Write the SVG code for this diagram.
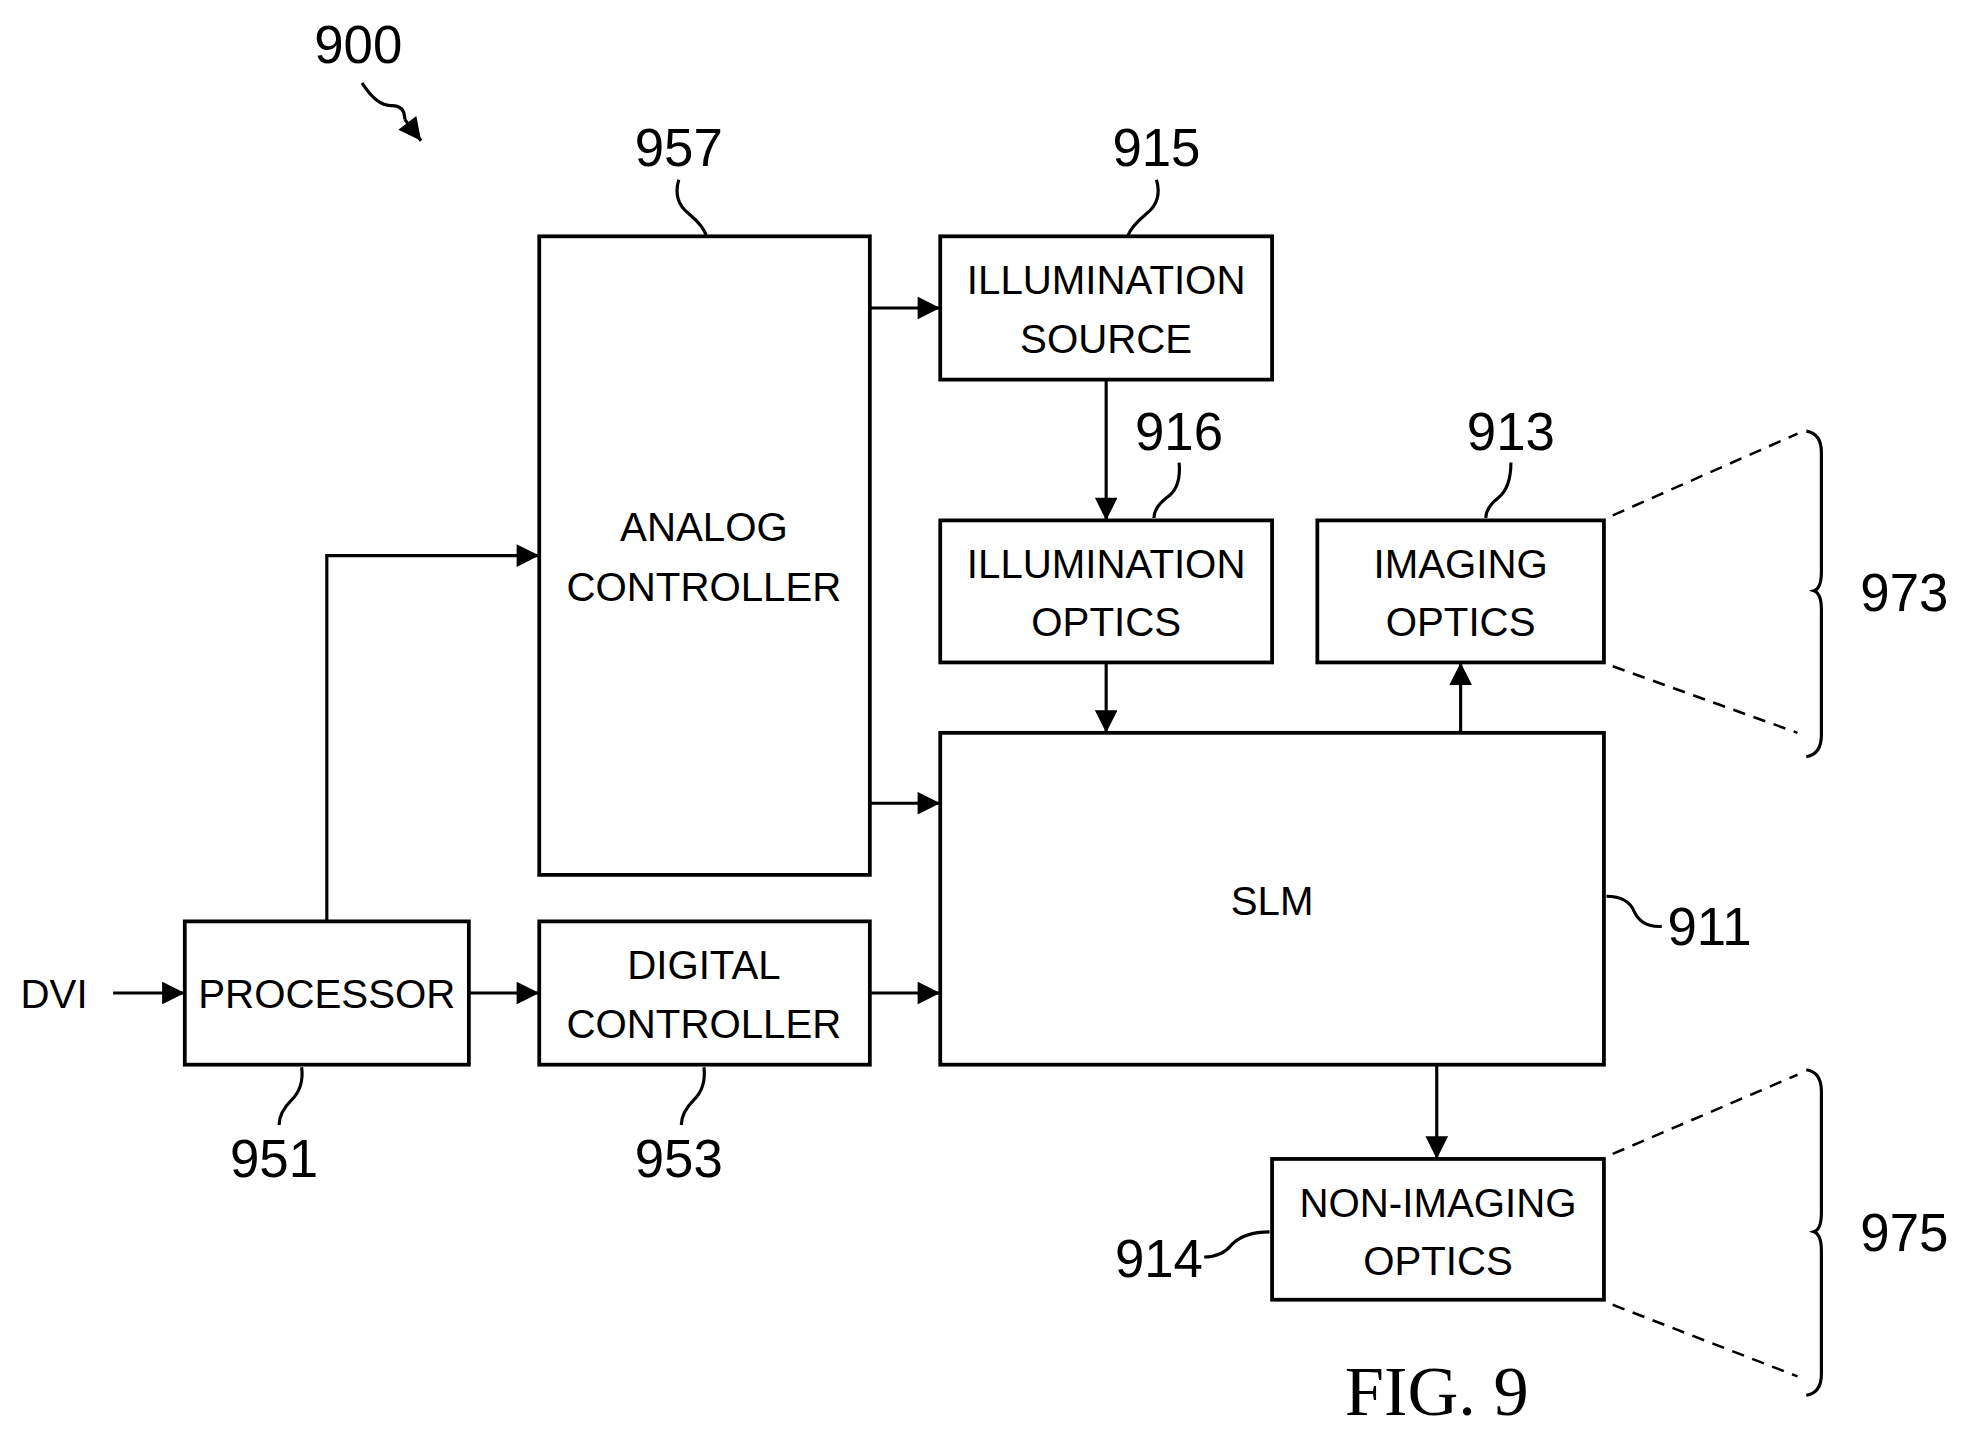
<svg xmlns="http://www.w3.org/2000/svg" width="1970" height="1440" viewBox="0 0 1970 1440">
<style>
.b{fill:#fff;stroke:#000;stroke-width:3}
.c{fill:none;stroke:#000;stroke-width:2.5}
.d{fill:none;stroke:#000;stroke-width:2;stroke-dasharray:10 7}
.t{font-family:"Liberation Sans",Arial,sans-serif;font-size:32px;text-anchor:middle}
.n{font-family:"Liberation Sans",Arial,sans-serif;font-size:42px;text-anchor:middle}
</style>
<defs>
<marker id="A" viewBox="0 0 10 10" refX="10" refY="5" markerWidth="26" markerHeight="18" markerUnits="userSpaceOnUse" orient="auto"><path d="M0,0 L10,5 L0,10 Z" fill="#000"/></marker></defs>
<rect width="1970" height="1440" fill="#fff"/>
<g transform="scale(1.257)">
<g id="analog"><rect class="b" x="429" y="188" width="263" height="508"/><text class="t" x="560" y="430">ANALOG</text><text class="t" x="560" y="478">CONTROLLER</text></g>
<g id="illumsource"><rect class="b" x="748" y="188" width="264" height="114"/><text class="t" x="880" y="234">ILLUMINATION</text><text class="t" x="880" y="281">SOURCE</text></g>
<g id="illumoptics"><rect class="b" x="748" y="414" width="264" height="113"/><text class="t" x="880" y="460">ILLUMINATION</text><text class="t" x="880" y="506">OPTICS</text></g>
<g id="imaging"><rect class="b" x="1048" y="414" width="228" height="113"/><text class="t" x="1162" y="460">IMAGING</text><text class="t" x="1162" y="506">OPTICS</text></g>
<g id="slm"><rect class="b" x="748" y="583" width="528" height="264"/><text class="t" x="1012" y="728">SLM</text></g>
<g id="processor"><rect class="b" x="147" y="733" width="226" height="114"/><text class="t" x="260" y="802">PROCESSOR</text></g>
<g id="digital"><rect class="b" x="429" y="733" width="263" height="114"/><text class="t" x="560" y="779">DIGITAL</text><text class="t" x="560" y="826">CONTROLLER</text></g>
<g id="nonimaging"><rect class="b" x="1012" y="922" width="264" height="112"/><text class="t" x="1144" y="968">NON-IMAGING</text><text class="t" x="1144" y="1014">OPTICS</text></g>
<g id="connectors">
<path class="c" d="M692,245 H748" marker-end="url(#A)"/>
<path class="c" d="M692,639 H748" marker-end="url(#A)"/>
<path class="c" d="M260,733 V442 H429" marker-end="url(#A)"/>
<path class="c" d="M90,790 H147" marker-end="url(#A)"/>
<path class="c" d="M373,790 H429" marker-end="url(#A)"/>
<path class="c" d="M692,790 H748" marker-end="url(#A)"/>
<path class="c" d="M880,302 V414" marker-end="url(#A)"/>
<path class="c" d="M880,527 V583" marker-end="url(#A)"/>
<path class="c" d="M1162,583 V527" marker-end="url(#A)"/>
<path class="c" d="M1143,847 V922" marker-end="url(#A)"/>
<path class="d" d="M1283,410 L1430,345 M1283,530 L1430,583 M1283,918 L1430,855 M1283,1038 L1430,1095"/>
<path class="c" d="M1437,343 Q1449,345 1449,360 V455 Q1449,468 1443,470 Q1449,472 1449,485 V585 Q1449,600 1437,602"/>
<path class="c" d="M1437,851 Q1449,853 1449,868 V965 Q1449,978 1443,980 Q1449,982 1449,995 V1093 Q1449,1108 1437,1110"/>
<path class="c" d="M288,66 Q300,85 312,84 Q322,84 322,95"/>
<path class="c" d="M322,95 L335,112" marker-end="url(#A)"/>
<path class="c" d="M540,143 Q535,160 548,170 Q560,180 562,188"/>
<path class="c" d="M920,143 Q925,160 912,170 Q900,180 897,188"/>
<path class="c" d="M938,368 Q940,388 928,396 Q918,404 918,412"/>
<path class="c" d="M1202,368 Q1202,388 1192,396 Q1182,404 1182,412"/>
<path class="c" d="M1278,713 Q1295,713 1300,725 Q1306,738 1322,737"/>
<path class="c" d="M240,849 Q242,865 232,875 Q222,885 222,895"/>
<path class="c" d="M560,849 Q562,865 552,875 Q542,885 542,895"/>
<path class="c" d="M958,1000 Q972,1000 980,990 Q990,980 1010,980"/>
</g>
<g id="labels">
<text class="n" x="285" y="50">900</text>
<text class="n" x="540" y="132">957</text>
<text class="n" x="920" y="132">915</text>
<text class="n" x="938" y="358">916</text>
<text class="n" x="1202" y="358">913</text>
<text class="n" x="1360" y="752">911</text>
<text class="n" x="1515" y="486">973</text>
<text class="n" x="1515" y="995">975</text>
<text class="n" x="218" y="936">951</text>
<text class="n" x="540" y="936">953</text>
<text class="n" x="922" y="1016">914</text>
<text class="t" x="43" y="802">DVI</text>
<text x="1143" y="1126" style="font-family:'Liberation Serif',serif;font-size:56px;text-anchor:middle">FIG. 9</text>
</g>
</g>
</svg>
